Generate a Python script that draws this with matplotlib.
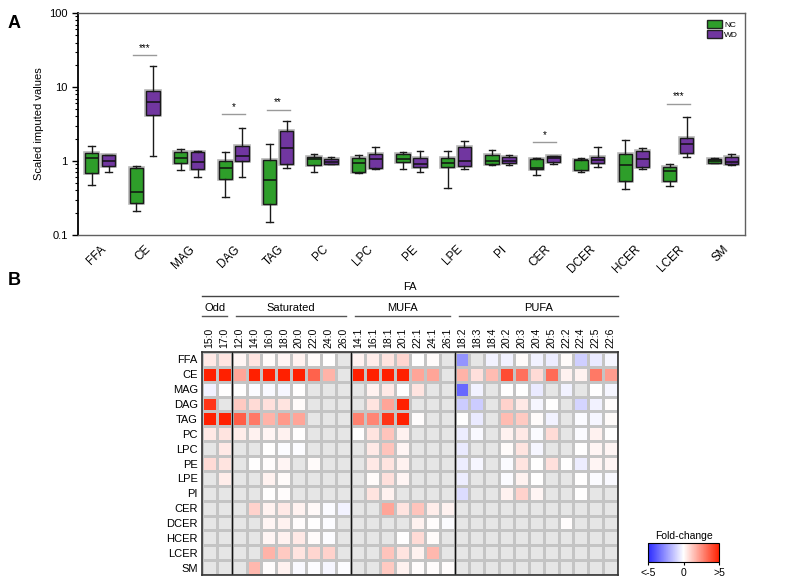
import numpy as np
import matplotlib
matplotlib.use('Agg')
import matplotlib.pyplot as plt
import matplotlib.patheffects as pe
from matplotlib.colors import LinearSegmentedColormap
from matplotlib.patches import Patch
from matplotlib.transforms import blended_transform_factory

plt.rcParams['font.family'] = ['Liberation Sans', 'DejaVu Sans']

# ---- panel A data (box stats) ----
classes = ['FFA', 'CE', 'MAG', 'DAG', 'TAG', 'PC', 'LPC', 'PE', 'LPE', 'PI',
           'CER', 'DCER', 'HCER', 'LCER', 'SM']

nc_lo  = [0.48, 0.21, 0.76, 0.33, 0.15, 0.72, 0.69, 0.77, 0.43, 0.88, 0.64, 0.71, 0.42, 0.46, 0.93]
nc_q1  = [0.68, 0.27, 0.93, 0.58, 0.26, 0.88, 0.72, 0.96, 0.83, 0.91, 0.77, 0.75, 0.53, 0.53, 0.95]
nc_med = [1.09, 0.38, 1.09, 0.81, 0.55, 1.06, 0.93, 1.06, 0.93, 1.00, 0.81, 1.02, 0.88, 0.73, 1.00]
nc_q3  = [1.27, 0.80, 1.31, 0.99, 1.03, 1.13, 1.11, 1.23, 1.09, 1.19, 1.05, 1.04, 1.23, 0.83, 1.05]
nc_hi  = [1.60, 0.85, 1.44, 1.34, 1.68, 1.23, 1.20, 1.34, 1.38, 1.43, 1.11, 1.09, 1.90, 0.90, 1.09]

wd_lo  = [0.70, 1.18, 0.60, 0.61, 0.81, 0.90, 0.79, 0.70, 0.77, 0.89, 0.91, 0.83, 0.77, 1.13, 0.88]
wd_q1  = [0.85, 4.15, 0.77, 1.00, 0.91, 0.91, 0.80, 0.84, 0.85, 0.93, 0.97, 0.93, 0.83, 1.27, 0.90]
wd_med = [1.00, 6.20, 0.98, 1.17, 1.48, 0.98, 1.05, 0.90, 1.00, 1.00, 1.09, 1.03, 1.07, 1.68, 0.98]
wd_q3  = [1.20, 8.80, 1.31, 1.60, 2.54, 1.08, 1.25, 1.11, 1.55, 1.13, 1.18, 1.15, 1.38, 2.03, 1.15]
wd_hi  = [1.20, 19.2, 1.38, 2.76, 3.50, 1.12, 1.55, 1.37, 1.85, 1.19, 1.18, 1.53, 1.48, 3.90, 1.25]

sig_class = ['CE', 'DAG', 'TAG', 'CER', 'LCER']
sig_text = ['***', '*', '**', '*', '***']
sig_y = [27, 4.3, 4.9, 1.79, 5.9]

# ---- panel B data (fold change, nan = not detected) ----
fa_cols = ['15:0', '17:0',
           '12:0', '14:0', '16:0', '18:0', '20:0', '22:0', '24:0', '26:0',
           '14:1', '16:1', '18:1', '20:1', '22:1', '24:1', '26:1',
           '18:2', '18:3', '18:4', '20:2', '20:3', '20:4', '20:5', '22:2', '22:4', '22:5', '22:6']
groups = ['Odd', 'Saturated', 'MUFA', 'PUFA']
group_sizes = [2, 8, 7, 11]
rows = classes

n = np.nan
fold = [
    # FFA
    [0.5, 0.6, 0.2, 0.6, 0.1, 0.2, 0.3, 0.1, 0.0, n, 0.3, 0.4, 0.6, 0.9, 0.0, 0.1, n,
     -2.5, n, -0.3, -0.3, 0.1, -0.3, -0.4, 0.1, -1.1, -0.5, -0.2],
    # CE
    [5, 5, 2.0, 5, 5, 5, 5, 3.5, 1.7, n, 5, 5, 5, 5, 2.0, 2.0, n,
     1.7, 0.7, 1.5, 4.0, 3.2, 0.8, 3.3, 0.3, 0.3, 3.0, 2.2],
    # MAG
    [-0.3, 0.0, 0.0, -0.1, -0.15, -0.2, 0.0, n, n, n, n, 0.3, 0.5, 0.0, 0.6, n, n,
     -3.5, -0.3, n, 0.0, 0.0, -0.5, n, -0.3, n, 0.0, -0.2],
    # DAG
    [4.5, n, 1.2, 0.8, 0.7, 0.6, 0.1, n, n, n, n, 0.6, 2.0, 5, n, n, n,
     -1.2, -1.2, n, 1.0, 0.5, -0.2, 0.0, n, -1.0, -0.3, 0.05],
    # TAG
    [5, 5, 3.6, 3.0, 1.7, 2.3, 2.0, n, n, n, 2.8, 2.7, 4.5, 5, 0.05, n, n,
     0.0, -0.5, n, 1.5, 1.2, 0.1, -0.3, n, -0.1, -0.2, 0.1],
    # PC
    [0.5, 0.6, 0.4, 0.3, 0.2, 0.3, 0.0, n, n, n, 0.0, 0.6, 1.3, 0.3, n, n, n,
     -0.4, -0.15, n, 0.3, 0.5, -0.1, 0.8, n, -0.1, 0.3, 0.0],
    # LPC
    [n, 0.5, n, n, 0.0, -0.05, -0.05, n, n, n, n, 0.5, 1.3, 0.2, n, n, n,
     -0.5, n, n, 0.1, 0.6, -0.2, n, n, 0.0, 0.2, 0.2],
    # PE
    [0.8, 0.6, n, 0.0, 0.05, 0.2, n, 0.1, n, n, n, 0.5, 0.6, 0.3, n, n, n,
     -0.4, -0.2, n, -0.1, 0.6, 0.0, 0.7, 0.0, -0.4, 0.2, 0.2],
    # LPE
    [n, 0.4, n, n, 0.3, 0.1, n, n, n, n, n, 0.1, 0.7, 0.2, n, n, n,
     -0.4, n, n, -0.1, 0.3, 0.0, n, n, 0.0, -0.1, -0.15],
    # PI
    [n, n, n, n, 0.03, 0.05, n, n, n, n, n, 0.6, 0.3, n, n, n, n,
     -0.8, n, n, 0.3, 1.0, 0.2, n, n, 0.0, n, n],
    # CER
    [n, n, n, 1.0, 0.3, 0.5, 0.3, 0.15, -0.1, -0.3, n, n, 2.0, 0.6, 1.3, 0.4, 0.3,
     n, n, n, n, n, n, n, n, n, n, n],
    # DCER
    [n, n, n, n, 0.2, 0.3, 0.05, 0.0, -0.05, n, n, n, n, n, 0.3, 0.05, -0.05,
     n, n, n, n, n, n, n, 0.05, n, n, n],
    # HCER
    [n, n, n, n, 0.2, 0.3, 0.5, 0.1, -0.05, n, n, n, n, 0.0, 0.8, 0.1, n,
     n, n, n, n, n, n, n, n, n, n, n],
    # LCER
    [n, n, n, n, 1.7, 1.2, 0.6, 0.9, 1.0, n, n, n, 1.3, 0.6, 0.3, 1.6, n,
     n, n, n, n, n, n, n, n, n, n, n],
    # SM
    [n, n, n, 1.6, 0.05, 0.3, -0.15, -0.05, -0.2, -0.05, n, n, 1.2, 0.3, 0.05, 0.05, 0.05,
     n, n, n, n, n, n, n, n, n, n, n],
]

green = '#2e9e2a'
purple = '#7136a0'

fig = plt.figure(figsize=(7.87, 5.84), dpi=100)

# ================= panel A =================
ax = fig.add_axes([0.0991, 0.5976, 0.8475, 0.380])
x = np.arange(len(classes))


def stats(lo, q1, med, q3, hi):
    return [dict(whislo=a, q1=b, med=c, q3=d, whishi=e, fliers=[])
            for a, b, c, d, e in zip(lo, q1, med, q3, hi)]


halo = [pe.Stroke(linewidth=2.6, foreground='#b5b5b5'), pe.Normal()]
for st, pos, col in [(stats(nc_lo, nc_q1, nc_med, nc_q3, nc_hi), x - 0.19, green),
                     (stats(wd_lo, wd_q1, wd_med, wd_q3, wd_hi), x + 0.19, purple)]:
    b = ax.bxp(st, positions=pos, widths=0.30, patch_artist=True, manage_ticks=False,
               boxprops=dict(facecolor=col, edgecolor='#1a1a1a', linewidth=1.0),
               medianprops=dict(color='#111111', linewidth=1.1),
               whiskerprops=dict(color='#1a1a1a', linewidth=1.0),
               capprops=dict(color='#1a1a1a', linewidth=1.0), capwidths=0.15)
    for p in b['boxes']:
        p.set_path_effects(halo)

for c, t, y in zip(sig_class, sig_text, sig_y):
    i = classes.index(c)
    ax.plot([i - 0.26, i + 0.26], [y, y], color='#9a9a9a', lw=1.0)
    ax.text(i, y * 1.08, t, ha='center', va='bottom', fontsize=7)

ax.set_yscale('log')
ax.set_ylim(0.1, 100)
ax.set_xlim(-0.5, len(classes) - 0.5)
ax.set_yticks([0.1, 1, 10, 100])
ax.set_yticklabels(['0.1', '1', '10', '100'], fontsize=8)
ax.set_xticks(x)
ax.set_xticklabels(classes, rotation=45, ha='right', rotation_mode='anchor', fontsize=8.5)
ax.tick_params(axis='x', length=0, pad=6)
ax.tick_params(axis='y', which='major', length=4, width=1)
ax.tick_params(axis='y', which='minor', length=2.5, width=0.8)
ax.set_ylabel('Scaled imputed values', fontsize=8)
ax.spines['left'].set_linewidth(1.3)
for s in ['top', 'right', 'bottom']:
    ax.spines[s].set_color('#606060')
    ax.spines[s].set_linewidth(1.0)

leg = ax.legend(handles=[Patch(facecolor=green, edgecolor='#222222', label='NC'),
                         Patch(facecolor=purple, edgecolor='#222222', label='WD')],
                loc='upper right', fontsize=6, frameon=False, handlelength=1.8,
                handleheight=1.1, handletextpad=0.3, labelspacing=0.2,
                borderaxespad=0.4)

# ================= panel B =================
cmap = LinearSegmentedColormap.from_list('fc', ['#2828ff', '#ffffff', '#ff2000'])
cmap.set_bad('#e6e6e6')
data = np.ma.masked_invalid(np.array(fold, dtype=float))

hx = fig.add_axes([0.2567, 0.0154, 0.5286, 0.3818])
hx.set_facecolor('#e6e6e6')
hx.pcolormesh(np.arange(len(fa_cols) + 1), np.arange(len(rows) + 1), data,
              cmap=cmap, vmin=-5, vmax=5, edgecolors='#c4c4c4', linewidth=0.8)
hx.set_xlim(0, len(fa_cols))
hx.set_ylim(len(rows), 0)
hx.set_yticks(np.arange(len(rows)) + 0.5)
hx.set_yticklabels(rows, fontsize=8)
hx.xaxis.tick_top()
hx.set_xticks(np.arange(len(fa_cols)) + 0.5)
hx.set_xticklabels(fa_cols, rotation=90, fontsize=7.5)
hx.tick_params(length=0, pad=3)
for s in hx.spines.values():
    s.set_color('#333333')
    s.set_linewidth(1.2)

# group separators
edges = np.cumsum(group_sizes)
for e in edges[:-1]:
    hx.axvline(e, color='#111111', lw=1.0)

tr = blended_transform_factory(hx.transData, hx.transAxes)
start = 0
for g, sz in zip(groups, group_sizes):
    a = start + (0.0 if start == 0 else 0.3)
    bnd = start + sz - (0.0 if start + sz == len(fa_cols) else 0.3)
    hx.plot([a, bnd], [1.161, 1.161], color='#555555', lw=1.0, transform=tr, clip_on=False)
    hx.text((a + bnd) / 2, 1.175, g, ha='center', va='bottom', fontsize=8, transform=tr)
    start += sz
hx.plot([0, len(fa_cols)], [1.252, 1.252], color='#444444', lw=1.0, transform=tr, clip_on=False)
hx.text(len(fa_cols) / 2, 1.27, 'FA', ha='center', va='bottom', fontsize=8, transform=tr)

# colorbar
cax = fig.add_axes([0.823, 0.0377, 0.091, 0.0325])
sm = plt.cm.ScalarMappable(cmap=cmap, norm=plt.Normalize(-5, 5))
cb = fig.colorbar(sm, cax=cax, orientation='horizontal', ticks=[-5, 0, 5])
cb.ax.set_xticklabels(['<-5', '0', '>5'], fontsize=7.5)
cb.ax.tick_params(length=2, pad=2)
cb.outline.set_linewidth(0.8)
cax.set_title('Fold-change', fontsize=7.5, pad=3)

fig.text(0.010, 0.975, 'A', fontsize=13, fontweight='bold', va='top')
fig.text(0.010, 0.535, 'B', fontsize=13, fontweight='bold', va='top')

fig.savefig('out.png', dpi=100)
